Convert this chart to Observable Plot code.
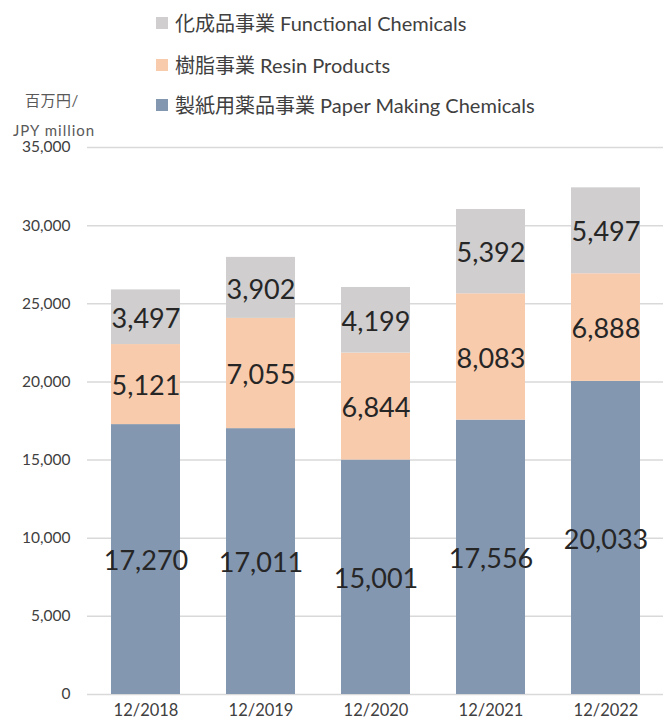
<!DOCTYPE html>
<html>
<head>
<meta charset="utf-8">
<script src="https://cdn.jsdelivr.net/npm/d3@7"></script>
<script src="https://cdn.jsdelivr.net/npm/@observablehq/plot@0.6"></script>
<style>
  body { margin: 0; background: #fff; font-family: Lato, "Noto Sans CJK JP", sans-serif; }
  #wrap { position: relative; width: 663px; height: 724px; }
  #legend { height: 118px; position: relative; }
  .li { position: absolute; left: 156px; font-size: 20px; line-height: 24px; color: #404040; white-space: nowrap; display: flex; align-items: center; }
  .sw { width: 12px; height: 12px; margin-right: 7px; display: inline-block; }
  .yt { position: absolute; font-size: 15px; line-height: 20px; color: #595959; white-space: nowrap; }
</style>
</head>
<body>
<div id="wrap">
  <div id="legend"></div>
  <div class="yt" style="left:25px; top:90px; letter-spacing:0.5px;">百万円/</div>
  <div class="yt" style="left:13px; top:120px; letter-spacing:1px;">JPY million</div>
  <div id="chart"></div>
</div>
<script>
const years = ["12/2018", "12/2019", "12/2020", "12/2021", "12/2022"];
const paperMaking = [17270, 17011, 15001, 17556, 20033];
const resin = [5121, 7055, 6844, 8083, 6888];
const functional = [3497, 3902, 4199, 5392, 5497];
const seriesNames = ["製紙用薬品事業 Paper Making Chemicals", "樹脂事業 Resin Products", "化成品事業 Functional Chemicals"];
const seriesColors = ["#8497B0", "#F8CBAD", "#D0CECE"];
const yTicks = [0, 5000, 10000, 15000, 20000, 25000, 30000, 35000];

const seriesValues = [paperMaking, resin, functional];
const rows = [];
years.forEach((yr, i) => {
  let base = 0;
  seriesValues.forEach((vals, s) => {
    const v = vals[i];
    rows.push({year: yr, series: seriesNames[s], value: v, y1: base, y2: base + v, mid: base + v / 2});
    base += v;
  });
});

// legend (top to bottom: functional, resin, paper)
const legend = document.getElementById("legend");
const legendOrder = [2, 1, 0];
const legendTops = [11, 53, 93];
legendOrder.forEach((s, k) => {
  const d = document.createElement("div");
  d.className = "li";
  d.style.top = legendTops[k] + "px";
  d.innerHTML = `<span class="sw" style="background:${seriesColors[s]}"></span><span>${seriesNames[s]}</span>`;
  legend.appendChild(d);
});

const fmt = d3.format(",");
const chart = Plot.plot({
  width: 663,
  height: 606,
  marginTop: 29,
  marginBottom: 30,
  marginLeft: 87,
  marginRight: 0,
  style: {fontFamily: "Lato, 'Noto Sans CJK JP', sans-serif", background: "#fff"},
  x: {domain: years, paddingInner: 0.4, paddingOuter: 0.2, label: null},
  y: {domain: [0, 35000], label: null},
  color: {domain: seriesNames, range: seriesColors},
  marks: [
    Plot.gridY(yTicks, {stroke: "#d9d9d9", strokeOpacity: 1, strokeWidth: 1.5}),
    Plot.barY(rows, {x: "year", y1: "y1", y2: "y2", fill: "series"}),
    Plot.text(rows, {x: "year", y: "mid", dy: 2, text: d => fmt(d.value), fontSize: 27, fill: "#262626"}),
    Plot.axisY({ticks: yTicks, tickSize: 0, tickPadding: 17, tickFormat: fmt, fontSize: 15.5, fill: "#404040", label: null}),
    Plot.axisX({tickSize: 0, tickPadding: 10, fontSize: 16.5, fill: "#404040", label: null})
  ]
});
document.getElementById("chart").appendChild(chart);
</script>
</body>
</html>
